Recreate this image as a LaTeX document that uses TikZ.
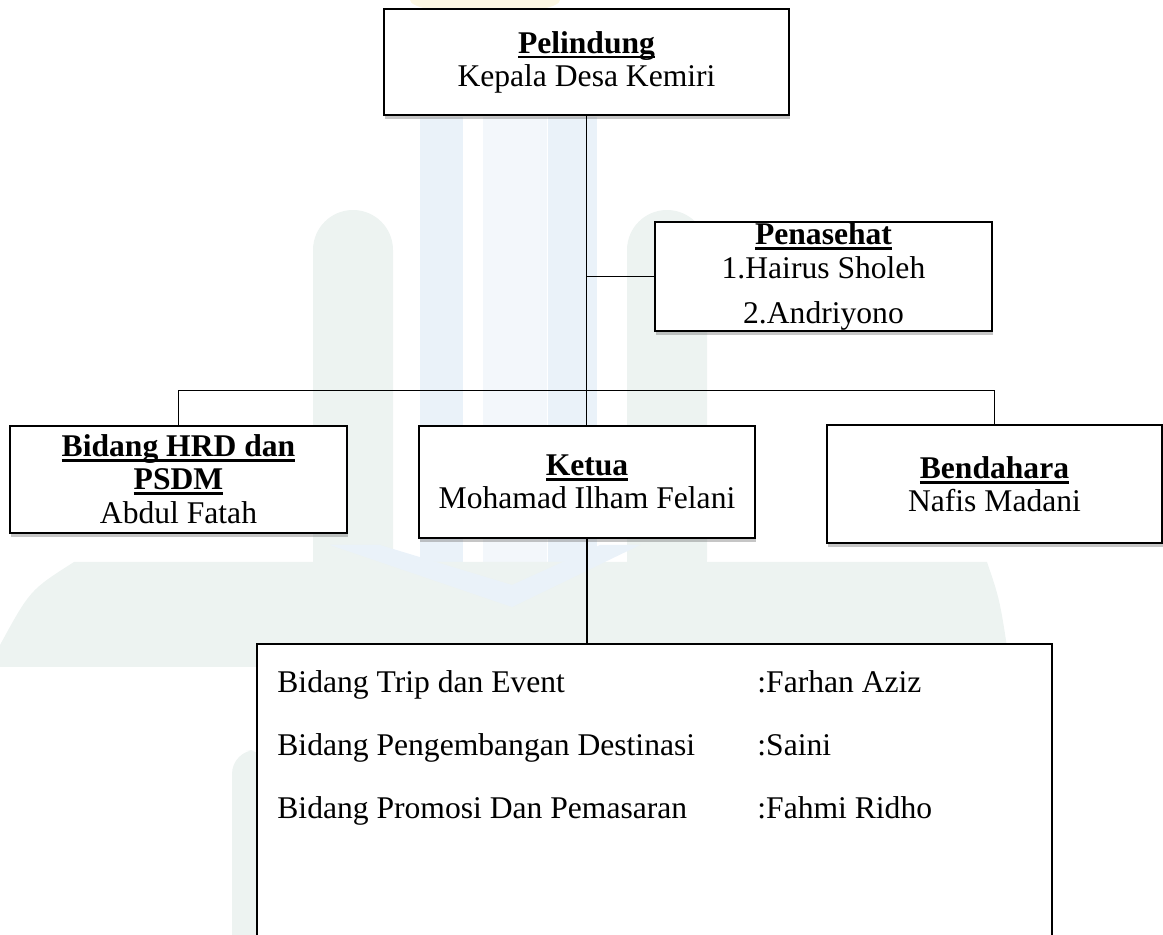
\documentclass[tikz,border=0pt]{standalone}
\usepackage{fontspec}
\setmainfont{Liberation Serif}
\usetikzlibrary{shadows}

\definecolor{wmblue}{HTML}{EAF2F9}
\definecolor{wmgreen}{HTML}{EDF3F1}
\definecolor{wmyellow}{HTML}{FCF7E3}

% bold title with a thick underline
\newcommand{\jabatan}[1]{\setbox0\hbox{\bfseries #1}\rlap{\rule[-2.6pt]{\wd0}{1.3pt}}\box0}

\begin{document}
\begin{tikzpicture}[x=0.5pt, y=-0.5pt,
                    every node/.style={font=\fontsize{15.8}{16.5}\selectfont},
                    unit/.style={draw, line width=0.8pt, fill=white, align=center,
                                 inner sep=0pt,
                                 drop shadow={shadow xshift=0.7pt, shadow yshift=-1.9pt,
                                              opacity=0.45}},
                    trunk/.style={line width=0.9pt},
                    link/.style={line width=0.6pt},
                    entry/.style={anchor=base west, inner sep=0pt}]

  \useasboundingbox (0,0) rectangle (1163,935);
  \clip (0,0) rectangle (1163,935);

  % Faint watermark behind the chart
  \fill[wmyellow] (485,0) ellipse [x radius=75, y radius=14];
  \fill[wmblue] (420,117) rectangle (463,600);
  \fill[wmblue!60] (483,117) rectangle (547,600);
  \fill[wmblue] (548,117) rectangle (597,600);
  \fill[wmgreen, rounded corners=20pt] (313,600) -- (313,210) -- (393,210) -- (393,600) -- cycle;
  \fill[wmgreen, rounded corners=20pt] (627,600) -- (627,210) -- (707,210) -- (707,600) -- cycle;
  \fill[wmgreen] (74,562) -- (987,562) .. controls (1000,600) .. (1010,667)
                 -- (0,667) -- (0,645) .. controls (30,590) .. (74,562);
  \fill[wmblue] (330,545) -- (512,607) -- (640,545) -- (600,545) -- (512,585) -- (380,545) -- cycle;
  \fill[wmgreen, rounded corners=12pt] (232,960) -- (232,750) -- (270,750) -- (270,960) -- cycle;

  % Boxes of the chart
  \node[unit, minimum width=202.5pt, minimum height=52.75pt] (pelindung) at (586.5,62)
       {\jabatan{Pelindung}\\Kepala Desa Kemiri};
  \node[unit, minimum width=168.5pt, minimum height=54.5pt] (penasehat) at (823.5,276.5)
       {\jabatan{Penasehat}\\[0.5pt]1.Hairus Sholeh\\[6pt]2.Andriyono};
  \node[unit, minimum width=168.5pt, minimum height=53.5pt] (hrd) at (178.5,479.5)
       {\jabatan{Bidang HRD dan}\\\jabatan{PSDM}\\[0.5pt]Abdul Fatah};
  \node[unit, minimum width=168pt, minimum height=56pt] (ketua) at (587,482)
       {\jabatan{Ketua}\\Mohamad Ilham Felani};
  \node[unit, minimum width=167.5pt, minimum height=59pt] (bendahara) at (994.5,484)
       {\jabatan{Bendahara}\\Nafis Madani};
  \node[unit, anchor=north, minimum width=397.5pt, minimum height=160pt] (rincian)
       at (654.5,643) {};

  % Members listed in the lower box
  \foreach \bidang/\nama [count=\i] in {Bidang Trip dan Event/Farhan Aziz,
                                       Bidang Pengembangan Destinasi/Saini,
                                       Bidang Promosi Dan Pemasaran/Fahmi Ridho} {
    \node[entry] (bidang \i) at (277,{692+63*(\i-1)}) {\bidang};
    \node[entry] (nama \i) at (757,{692+63*(\i-1)}) {:\nama};
  }

  % Connecting lines
  \coordinate (bus) at (587,390.5);
  \draw[trunk] (pelindung.south) -- (pelindung.south |- ketua.north);
  \draw[link] (penasehat.west) -- (penasehat.west -| pelindung.south);
  \draw[link] (hrd.north) |- (bus) -| (bendahara.north);
  \draw[link] (ketua.south) -- (ketua.south |- rincian.north);

\end{tikzpicture}
\end{document}
